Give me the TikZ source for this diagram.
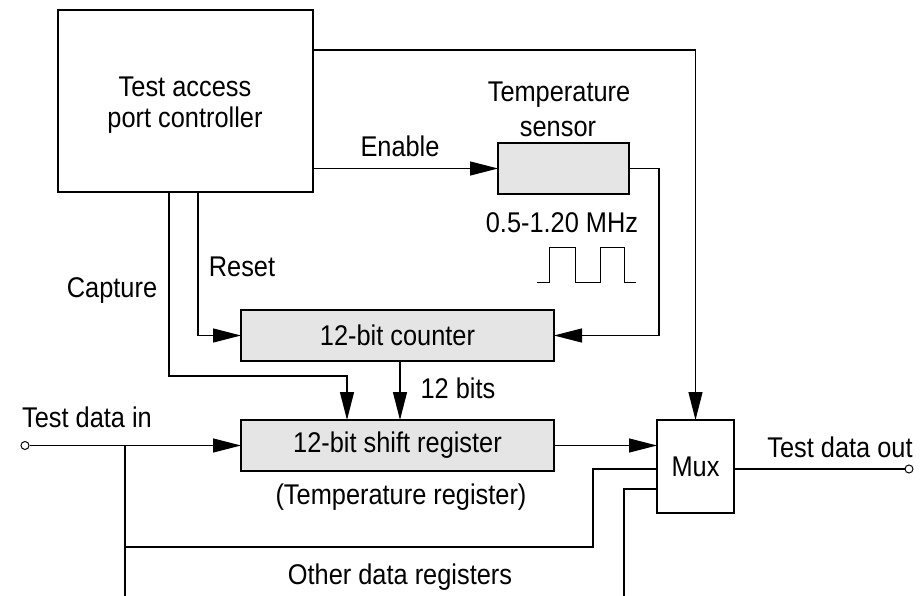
\documentclass[tikz,border=0pt]{standalone}
\usepackage{fontspec}
\setmainfont{Liberation Sans}[FakeStretch=0.89]
\usetikzlibrary{arrows.meta}
\begin{document}
\begin{tikzpicture}[x=1pt,y=-1pt,line width=1.3pt,
  every node/.style={font=\fontsize{28.5}{31}\selectfont},
  box/.style={draw,inner sep=0pt,outer sep=0pt},
  gbox/.style={box,fill=gray!20},
  lbl/.style={anchor=base,inner sep=0pt},
  arr/.style={-{Triangle[length=28pt,width=14pt]}},
  term/.style={circle,draw,fill=white,inner sep=0pt,minimum size=8pt,line width=1pt}]
\useasboundingbox (0,0) rectangle (922,596);
% boxes
\node[box,minimum width=255pt,minimum height=182pt] (tap) at (185.5,101) {};
\node[lbl] (tapa) at (185,97) {Test access};
\node[lbl] (tapb) at (185,128) {port controller};
\node[gbox,minimum width=131pt,minimum height=51pt] (ts) at (563.5,168.5) {};
\node[lbl] (tsa) at (559,102) {Temperature};
\node[lbl] (tsb) at (558,137) {sensor};
\node[gbox,minimum width=313pt,minimum height=51pt] (cnt) at (397.5,335.5) {12-bit counter};
\node[gbox,minimum width=313pt,minimum height=51pt] (sr) at (397.5,445.5) {12-bit shift register};
\node[box,minimum width=77pt,minimum height=93pt] (mux) at (695.5,466.5) {Mux};
% terminals
\node[term] (tdi) at (25,445.5) {};
\node[term] (tdo) at (909,469) {};
% labels
\node[lbl] (en) at (400,157) {Enable};
\node[lbl] (rs) at (242,277) {Reset};
\node[lbl] (cp) at (112,298) {Capture};
\node[lbl] (fq) at (562,233) {0.5-1.20 MHz};
\node[lbl] (bits) at (458,399) {12 bits};
\node[lbl] (tdil) at (87,428) {Test data in};
\node[lbl] (trl) at (401,504) {(Temperature register)};
\node[lbl] (odr) at (400,584) {Other data registers};
\node[lbl] (tdol) at (840,457) {Test data out};
% helper coordinates
\coordinate (topy) at (0,50);
\coordinate (rx) at (198,0);
\coordinate (capx) at (169,376);
\coordinate (capin) at (347,0);
\coordinate (bitx) at (400,0);
\coordinate (brtop) at (125,445.5);
\coordinate (brbot) at (125,596);
\coordinate (od1) at (593,547);
\coordinate (od2) at (624,596);
% connectors
\draw[arr] (tap.east |- topy) -| (mux.north);
\draw[arr] (tap.east |- ts.west) -- (ts.west);
\draw[arr] (ts.east) -- ++(30,0) |- (cnt.east);
\draw[arr] (tap.south -| rx) |- (cnt.west);
\draw[arr] (tap.south -| capx) -- (capx) -| (sr.north -| capin);
\draw[arr] (cnt.south -| bitx) -- (sr.north -| bitx);
\draw[arr] (tdi) -- (sr.west);
\draw (brtop) -- (brbot);
\draw (brtop |- od1) -- (od1) |- ([yshift=-2.5pt]mux.west);
\draw (od2) |- ([yshift=-22.5pt]mux.west);
\draw[arr] (sr.east) -- (mux.west |- sr.east);
\draw (mux.east |- tdo) -- (tdo);
% clock waveform
\draw[line width=1pt] (537,283) -- (549,283) -- (549,248) -- (575,248) -- (575,283)
  -- (600,283) -- (600,248) -- (624,248) -- (624,283) -- (636,283);
\end{tikzpicture}
\end{document}
